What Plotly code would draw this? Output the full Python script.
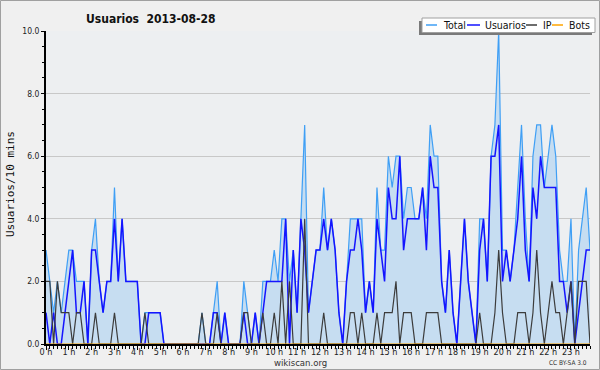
import plotly.graph_objects as go

# ---- data (10-minute slots, 2013-08-28) ----
total = [
    3, 2, 1, 2, 1, 2,   3, 3, 2, 2, 2, 0,   3, 4, 2, 1, 2, 2,   5, 2, 4, 2, 2, 2,
    2, 0, 1, 1, 1, 1,   1, 0, 0, 0, 0, 0,   0, 0, 0, 0, 0, 1,   0, 0, 1, 2, 0, 1,
    0, 0, 0, 0, 2, 1,   0, 1, 0, 2, 2, 2,   3, 2, 4, 4, 2, 3,   1, 4, 7, 1, 2, 3,
    3, 5, 3, 4, 3, 1,   0, 2, 4, 4, 4, 4,   1, 2, 1, 5, 3, 3,   6, 5, 6, 6, 4, 5,
    5, 4, 4, 5, 4, 7,   6, 6, 2, 1, 3, 1,   0, 2, 4, 2, 1, 0,   4, 4, 2, 6, 7, 10,
    3, 3, 2, 3, 5, 7,   4, 2, 6, 7, 7, 5,   6, 7, 6, 3, 2, 2,   4, 0, 3, 4, 5, 3,
]
usuarios = [
    1, 0, 1, 0, 0, 1,   2, 3, 1, 1, 2, 0,   3, 3, 2, 1, 2, 2,   4, 2, 4, 2, 2, 2,
    2, 0, 0, 1, 1, 1,   1, 0, 0, 0, 0, 0,   0, 0, 0, 0, 0, 0,   0, 0, 1, 1, 0, 1,
    0, 0, 0, 0, 1, 0,   0, 1, 0, 1, 2, 2,   2, 2, 2, 4, 0, 3,   1, 4, 3, 1, 2, 3,
    3, 4, 3, 4, 3, 1,   0, 2, 3, 3, 4, 3,   1, 2, 1, 4, 3, 2,   5, 4, 4, 6, 3, 4,
    4, 4, 4, 5, 3, 6,   5, 5, 2, 1, 3, 1,   0, 2, 4, 2, 1, 0,   3, 4, 2, 6, 6, 7,
    2, 3, 2, 3, 4, 6,   3, 2, 5, 4, 6, 5,   5, 5, 5, 2, 2, 1,   2, 0, 1, 2, 3, 3,
]
ip = [
    2, 2, 0, 2, 1, 1,   1, 0, 1, 1, 0, 0,   0, 1, 0, 0, 0, 0,   1, 0, 0, 0, 0, 0,
    0, 0, 1, 0, 0, 0,   0, 0, 0, 0, 0, 0,   0, 0, 0, 0, 0, 1,   0, 0, 0, 1, 0, 0,
    0, 0, 0, 0, 1, 1,   0, 0, 0, 1, 0, 0,   1, 0, 2, 0, 2, 0,   0, 0, 4, 0, 0, 0,
    0, 1, 0, 0, 0, 0,   0, 0, 1, 1, 0, 1,   0, 0, 0, 1, 0, 1,   1, 1, 2, 0, 1, 1,
    1, 0, 0, 0, 1, 1,   1, 1, 0, 0, 0, 0,   0, 0, 0, 0, 0, 0,   1, 0, 0, 0, 1, 3,
    1, 0, 0, 0, 1, 1,   1, 0, 1, 3, 1, 0,   1, 2, 1, 1, 0, 1,   2, 0, 2, 2, 2, 0,
]
bots = [0] * 144
slots = [i / 6 for i in range(144)]  # time of day in hours

series_names = ["Total", "Usuarios", "IP", "Bots"]
series_colors = ["#3f9ff5", "#1414ff", "#3c3c3c", "#ffa500"]

FONT = "DejaVu Sans Condensed, DejaVu Sans, sans-serif"

# plot area in pixels
L, R, T, B = 46, 590, 31, 344
def px(x):
    return (x - L) / (R - L)
def py(y):
    return (B - y) / (B - T)

fig = go.Figure()
fig.add_trace(go.Scatter(x=slots, y=total, mode="lines", name="Total",
                         line=dict(color=series_colors[0], width=1.2),
                         fill="tozeroy", fillcolor="#c6ddf1"))
fig.add_trace(go.Scatter(x=slots, y=usuarios, mode="lines", name="Usuarios",
                         line=dict(color=series_colors[1], width=1.5)))
fig.add_trace(go.Scatter(x=slots, y=ip, mode="lines", name="IP",
                         line=dict(color=series_colors[2], width=1.2)))
fig.add_trace(go.Scatter(x=slots, y=bots, mode="lines", name="Bots",
                         line=dict(color=series_colors[3], width=1.2)))

shapes = [
    # outer border
    dict(type="rect", xref="paper", yref="paper", x0=px(0.5), x1=px(599.5),
         y0=py(0.5), y1=py(369.5), line=dict(color="#a0a0a0", width=1), layer="below"),
    # legend shadow
    dict(type="rect", xref="paper", yref="paper", x0=px(419), x1=px(592),
         y0=py(21), y1=py(35), fillcolor="#7a7a7a", line=dict(width=0), layer="above"),
    # legend box
    dict(type="rect", xref="paper", yref="paper", x0=px(422), x1=px(595),
         y0=py(18), y1=py(32.5), fillcolor="white", line=dict(color="#a0a0a0", width=1),
         layer="above"),
]
annotations = []
leg_lines = [(426, 437), (467, 480), (526, 537), (552, 563)]
leg_texts = [441, 483, 541, 567]
for name, col, (a, b), tx in zip(series_names, series_colors, leg_lines, leg_texts):
    shapes.append(dict(type="line", xref="paper", yref="paper", x0=px(a), x1=px(b),
                       y0=py(25), y1=py(25), line=dict(color=col, width=1.5), layer="above"))
    annotations.append(dict(text=name, xref="paper", yref="paper", x=px(tx), y=py(25.3),
                            xanchor="left", yanchor="middle", showarrow=False,
                            font=dict(family=FONT, size=10.5, color="#111")))

annotations += [
    dict(text="<b>Usuarios  2013-08-28</b>", xref="paper", yref="paper",
         x=px(151), y=py(19.5), xanchor="center", yanchor="middle", showarrow=False,
         font=dict(family=FONT, size=12, color="#111")),
    dict(text="Usuarios/10 mins", xref="paper", yref="paper", x=px(10), y=py(184),
         xanchor="center", yanchor="middle", textangle=-90, showarrow=False,
         font=dict(family="DejaVu Sans Mono, monospace", size=11, color="#111")),
    dict(text="wikiscan.org", xref="paper", yref="paper", x=px(300), y=py(362),
         xanchor="center", yanchor="middle", showarrow=False,
         font=dict(family=FONT, size=9.5, color="#333")),
    dict(text="CC BY-SA 3.0", xref="paper", yref="paper", x=px(589), y=py(363),
         xanchor="right", yanchor="middle", showarrow=False,
         font=dict(family=FONT, size=6.5, color="#333")),
]

fig.update_layout(
    width=600, height=370,
    margin=dict(l=L, r=600 - R, t=T, b=370 - B),
    paper_bgcolor="#f0f0f0", plot_bgcolor="#edeff1",
    showlegend=False,
    shapes=shapes, annotations=annotations,
    xaxis=dict(range=[0, 143 / 6], tick0=0, dtick=1, ticksuffix=" h",
               showgrid=False, zeroline=False, showline=True, linecolor="black",
               linewidth=2, ticks="outside", ticklen=4, tickwidth=1, tickcolor="black",
               ticklabelstandoff=-6,
               minor=dict(tick0=0, dtick=1 / 6, ticks="outside", ticklen=3,
                          tickwidth=1, tickcolor="black", showgrid=False),
               tickfont=dict(family=FONT, size=9, color="#222"), fixedrange=True),
    yaxis=dict(range=[0, 10], tick0=0, dtick=2, tickformat=".1f",
               showgrid=True, gridcolor="#c8c8c8", gridwidth=1, zeroline=False,
               showline=True, linecolor="black", linewidth=2,
               ticks="outside", ticklen=3, tickwidth=1, tickcolor="black",
               minor=dict(dtick=0.5, ticks="outside", ticklen=2, tickwidth=1,
                          tickcolor="black", showgrid=False),
               tickfont=dict(family=FONT, size=8.5, color="#222"), fixedrange=True),
)

fig.write_html("out.html", config={"displayModeBar": False},
               post_script="document.body.style.margin='0px';document.body.style.overflow='hidden';")
